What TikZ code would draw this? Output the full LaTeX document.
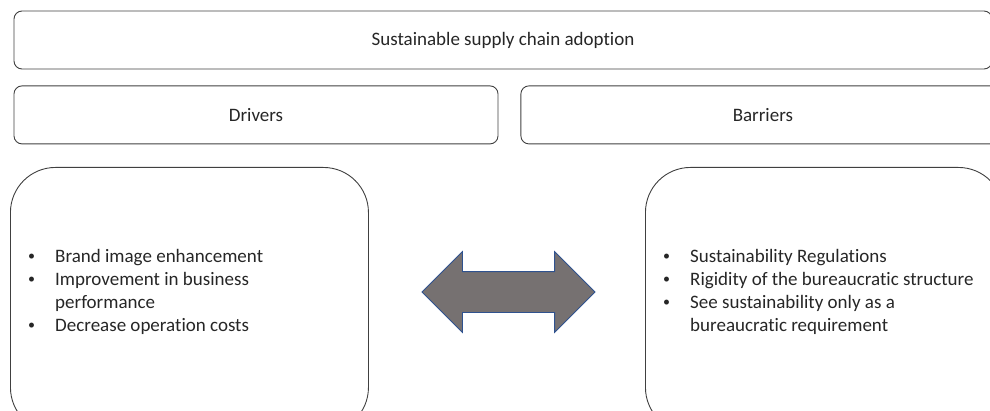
\documentclass[tikz,border=0pt]{standalone}
\usepackage{fontspec}
\setmainfont{Carlito}[Ligatures=NoCommon]
\usepackage{xcolor}
\usepackage{tikz}
\usetikzlibrary{positioning, shapes.arrows}

\definecolor{arrowfill}{HTML}{767171}
\definecolor{arrowline}{HTML}{2F528F}
\newcommand{\litem}[1]{\makebox[28pt][l]{\hspace{1pt}\raisebox{2pt}{\fontsize{14}{14}\selectfont\textbullet}}#1}
\newcommand{\lcont}[1]{\hspace*{28pt}#1}

\begin{document}
\begin{tikzpicture}[
    x=1pt, y=1pt,
    font=\fontsize{19}{23}\selectfont,
    bar/.style={draw=black!75, line width=0.9pt, rounded corners=8pt, minimum height=58pt, text=black!85},
    panel/.style={draw=black!75, line width=0.9pt, rounded corners=45pt, minimum width=358pt, minimum height=265pt, anchor=north west},
    items/.style={align=left, anchor=base west, inner sep=0pt, text=black!85},
    link/.style={double arrow, fill=arrowfill, draw=arrowline, line width=0.8pt, inner xsep=0pt, inner ysep=20pt,
                 double arrow head extend=20pt, double arrow tip angle=90, minimum height=173pt}
]
  \useasboundingbox (0,0) rectangle (990,410);
  \clip (0,0) rectangle (990,410);

  % Heading and the two column titles
  \node[bar, minimum width=978pt] (goal) at (503,370) {Sustainable supply chain adoption};
  \node[bar, minimum width=484pt, below right=16pt and 0pt of goal.south west] (drv) {Drivers};
  \node[bar, minimum width=484pt, right=22pt of drv] (bar) {Barriers};

  % Rounded panels holding the lists
  \node[panel] (drvbox) at (10,243) {};
  \node[panel] (barbox) at (645,243) {};

  % base anchor sits on the last line of each list
  \node[items] (drvlist) at (27,79) {\litem{Brand image enhancement}\\
    \litem{Improvement in business}\\ \lcont{performance}\\ \litem{Decrease operation costs}};
  \node[items] (barlist) at (662,79) {\litem{Sustainability Regulations}\\
    \litem{Rigidity of the bureaucratic structure}\\ \litem{See sustainability only as a}\\ \lcont{bureaucratic requirement}};

  % Two-way arrow between the panels
  \node[link] (swap) at (508.5,118) {};
\end{tikzpicture}
\end{document}
